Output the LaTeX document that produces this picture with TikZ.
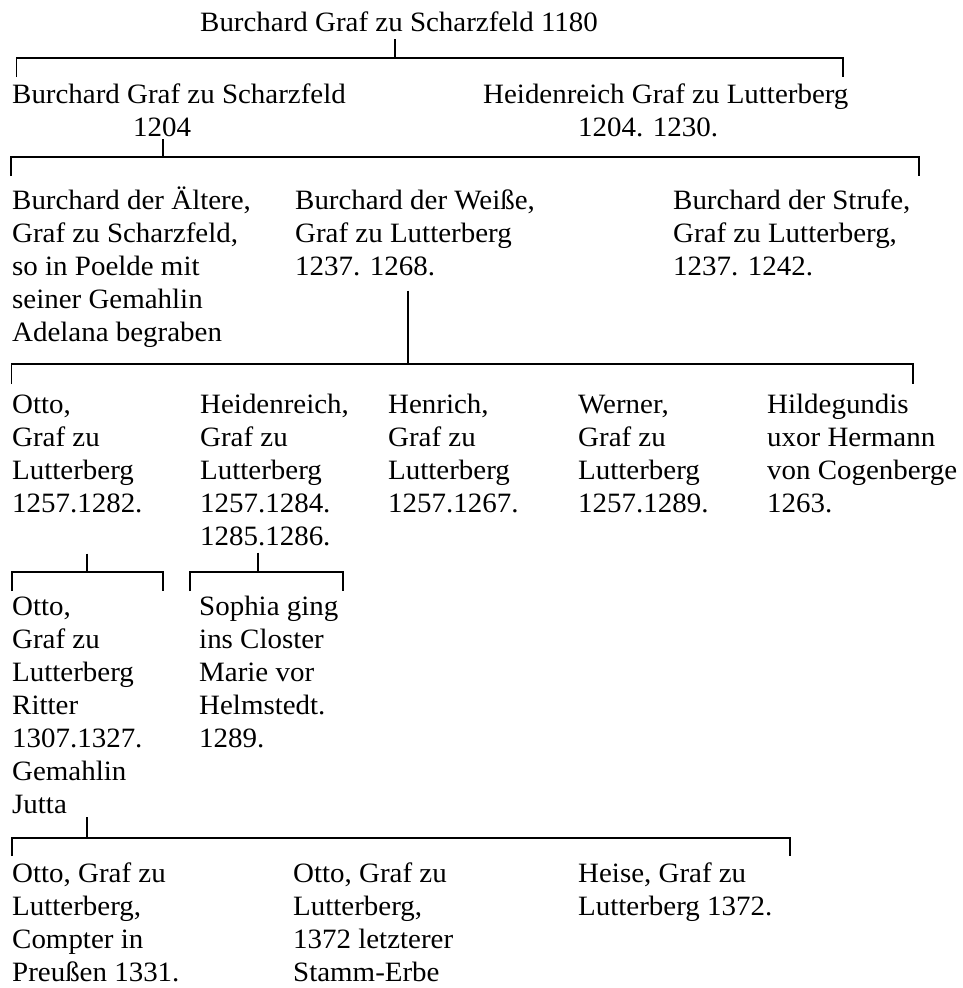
\documentclass[tikz,border=0pt]{standalone}
\usepackage{fontspec}
\setmainfont[FakeStretch=1.034]{Liberation Serif}
\usepackage{xcolor}
\usetikzlibrary{positioning}

\begin{document}
\begin{tikzpicture}[
  x=1pt,y=-1pt,
  member/.style={
    anchor=base west, inner sep=0pt, align=left,
    font=\fontsize{28}{33}\selectfont
  },
  tree/.style={line width=1.3pt, draw=black}
]
\useasboundingbox (0,0) rectangle (963,988);

% ---- generations (placed at the baseline of their last line) ----
\node[member] (stamm)       at (200,31)  {Burchard Graf zu Scharzfeld 1180};

\node[member] (burchard)    at (12,136)  {Burchard Graf zu Scharzfeld\\\hspace*{121pt}1204};
\node[member] (heidenreich) at (483,136) {Heidenreich Graf zu Lutterberg\\\hspace*{95pt}1204. 1230.};

\node[member] (aeltere)     at (12,341)  {Burchard der Ältere,\\Graf zu Scharzfeld,\\so in Poelde mit\\seiner Gemahlin\\Adelana begraben};
\node[member] (weisse)      at (295,275) {Burchard der Weiße,\\Graf zu Lutterberg\\1237. 1268.};
\node[member] (strufe)      at (673,275) {Burchard der Strufe,\\Graf zu Lutterberg,\\1237. 1242.};

\node[member] (otto)        at (12,512)  {Otto,\\Graf zu\\Lutterberg\\1257.1282.};
\node[member] (heidenr)     at (200,545) {Heidenreich,\\Graf zu\\Lutterberg\\1257.1284.\\1285.1286.};
\node[member] (henrich)     at (388,512) {Henrich,\\Graf zu\\Lutterberg\\1257.1267.};
\node[member] (werner)      at (578,512) {Werner,\\Graf zu\\Lutterberg\\1257.1289.};
\node[member] (hildegundis) at (767,512) {Hildegundis\\uxor Hermann\\von Cogenberge\\1263.};

\node[member] (ritter)      at (12,813)  {Otto,\\Graf zu\\Lutterberg\\Ritter\\1307.1327.\\Gemahlin\\Jutta};
\node[member] (sophia)      at (199,747) {Sophia ging\\ins Closter\\Marie vor\\Helmstedt.\\1289.};

\node[member] (compter)     at (12,981)  {Otto, Graf zu\\Lutterberg,\\Compter in\\Preußen 1331.};
\node[member] (stammerbe)   at (293,981) {Otto, Graf zu\\Lutterberg,\\1372 letzterer\\Stamm-Erbe};
\node[member] (heise)       at (578,915) {Heise, Graf zu\\Lutterberg 1372.};

% ---- bar ends and junctions ----
\coordinate (j1)  at (395,58);  \coordinate (b1l)  at (16.5,58); \coordinate (b1r)  at (843,58);
\coordinate (j2)  at (163,157); \coordinate (b2l)  at (11,157);   \coordinate (b2r)  at (919,157);
\coordinate (j3)  at (408,364); \coordinate (b3l)  at (11.7,364); \coordinate (b3r)  at (913,364);
\coordinate (j4)  at (87,572);  \coordinate (b4l)  at (12,572);   \coordinate (b4r)  at (163,572);
\coordinate (j4b) at (258,572); \coordinate (b4bl) at (190,572);  \coordinate (b4br) at (343,572);
\coordinate (j5)  at (87,838);  \coordinate (b5l)  at (12,838);   \coordinate (b5r)  at (790,838);

% ---- connectors ----
\draw[tree] ([yshift=-8pt]stamm.south -| j1) -- (j1);
\draw[tree] ([yshift=-19pt]b1l) -- (b1l) -- (b1r) -- ([yshift=-19pt]b1r);

\draw[tree] ([yshift=-3pt]burchard.south -| j2) -- (j2);
\draw[tree] ([yshift=-19pt]b2l) -- (b2l) -- (b2r) -- ([yshift=-19pt]b2r);

\draw[tree] ([yshift=-15pt]weisse.south -| j3) -- (j3);
\draw[tree] ([yshift=-20pt]b3l) -- (b3l) -- (b3r) -- ([yshift=-20pt]b3r);

\draw[tree] ([yshift=-41pt]otto.south -| j4) -- (j4);
\draw[tree] ([yshift=-19pt]b4l) -- (b4l) -- (b4r) -- ([yshift=-19pt]b4r);

\draw[tree] ([yshift=-7pt]heidenr.south -| j4b) -- (j4b);
\draw[tree] ([yshift=-19pt]b4bl) -- (b4bl) -- (b4br) -- ([yshift=-19pt]b4br);

\draw[tree] ([yshift=-4pt]ritter.south -| j5) -- (j5);
\draw[tree] ([yshift=-18pt]b5l) -- (b5l) -- (b5r) -- ([yshift=-18pt]b5r);

\end{tikzpicture}
\end{document}
